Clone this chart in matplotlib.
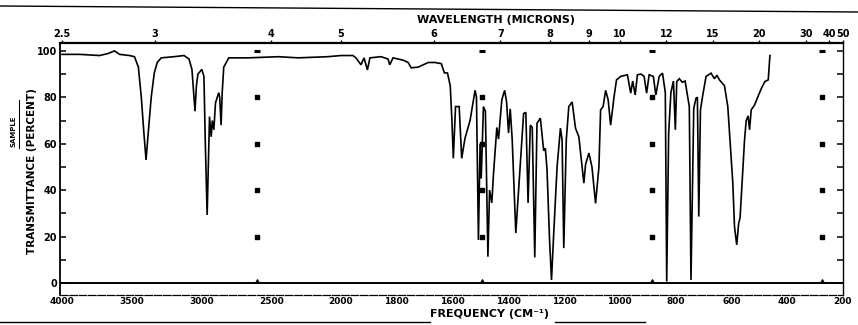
import numpy as np
import matplotlib
matplotlib.use('Agg')
import matplotlib.pyplot as plt
from matplotlib.lines import Line2D

# ---- data ----
freq = [4000, 3872, 3730, 3673, 3623, 3587, 3516, 3480, 3452, 3431, 3413, 3397,
        3381, 3360, 3338, 3317, 3288, 3196, 3125, 3089, 3068, 3053, 3046, 3036,
        3025, 2997, 2982, 2972, 2959, 2947, 2942, 2930, 2922, 2911, 2899, 2876,
        2869, 2859, 2851, 2840, 2804, 2662, 2449, 2306, 2093, 2000,
        1975, 1957, 1946, 1928, 1917, 1905, 1896, 1856, 1831, 1825, 1813, 1777,
        1759, 1748, 1723, 1705, 1687, 1662, 1640, 1629, 1618, 1608, 1602, 1597,
        1589, 1576, 1567, 1555, 1537, 1519, 1514, 1507, 1501, 1497, 1489, 1482,
        1473, 1467, 1459, 1453, 1441, 1435, 1423, 1413, 1406, 1399, 1393, 1386,
        1373, 1363, 1345, 1337, 1329, 1321, 1314, 1305, 1297, 1285, 1273, 1267,
        1261, 1252, 1245, 1237, 1225, 1213, 1207, 1201, 1192, 1183, 1171, 1159,
        1147, 1129, 1123, 1111, 1100, 1087, 1075, 1069, 1060, 1051, 1042, 1033,
        1021, 1012, 997, 973, 961, 954, 945, 937, 924, 913, 904, 895, 880, 871,
        859, 847, 837, 832, 825, 817, 808, 801, 796, 787, 776, 766, 751, 745,
        735, 727, 722, 717, 711, 704, 691, 673, 661, 652, 643, 625, 613, 601,
        595, 589, 581, 574, 569, 561, 553, 547, 540, 535, 529, 517, 505, 492,
        480, 468, 465, 462]
trans = [98.5, 98.5, 98, 98.8, 100, 98.5, 98, 97.5, 93, 80, 65, 53,
         65, 80, 90.5, 95, 97, 97.5, 98, 96.5, 92, 80, 74, 85,
         90, 92, 89, 60, 29.3, 60, 71.7, 63, 70, 66, 77.6, 82,
         80, 68, 82, 93, 97, 97, 97.5, 97, 97.5, 98,
         98, 98, 97, 94, 97, 91.8, 97, 97.5, 96.5, 94, 97, 96,
         95, 92.7, 93, 94, 95, 95, 94.5, 90.5, 90.5, 85, 70, 53.7,
         76, 76, 53.7, 62.4, 70, 83, 80, 18.5, 60, 45, 76, 74,
         11.3, 40, 34.5, 47, 67, 62, 79, 83, 78, 64.6, 75, 62,
         21.5, 40, 73, 73.5, 34.5, 68, 67, 11, 68.8, 71, 57, 58,
         48.7, 18.5, 1.3, 21.5, 50, 66.7, 61.6, 15, 61.6, 76, 78, 66.7,
         63, 43, 51, 56, 50, 34.3, 50, 74.6, 76, 83, 79, 68,
         80, 87.5, 89, 89.7, 81.8, 87, 81, 89.7, 90, 89, 81.8, 89.7, 89, 81,
         89, 90.4, 82, 0.6, 64.5, 82, 87, 66, 86.8, 88, 86.5, 87, 76, 1.3,
         75.3, 79.6, 80, 28.6, 74.6, 80, 89, 90.4, 88, 89.5, 87.5, 85, 76, 54.4,
         43, 24.3, 16.4, 25.7, 28, 44.4, 61.6, 70, 72, 66, 74.6, 76.7, 80.3, 84,
         86.8, 87.5, 93, 98]

freq_ticks = [4000, 3500, 3000, 2500, 2000, 1800, 1600, 1400, 1200, 1000,
              800, 600, 400, 200]
wavelength_ticks = [2.5, 3, 4, 5, 6, 7, 8, 9, 10, 12, 15, 20, 30, 40, 50]
wavelength_labels = ['2.5', '3', '4', '5', '6', '7', '8', '9', '10', '12',
                     '15', '20', '30', '40', '50']
percent_ticks = [0, 20, 40, 60, 80, 100]
guide_freqs = [2600, 1495, 885, 275]
guide_levels = [20, 40, 60, 80]


# chart paper: scale is compressed 2x above 2000 cm-1 (monotonic increasing)
def fwd(f):
    f = np.asarray(f, dtype=float)
    return np.where(f >= 2000, 2000 + (f - 2000) / 2.0, f)


def inv(u):
    u = np.asarray(u, dtype=float)
    return np.where(u >= 2000, 2000 + 2 * (u - 2000), u)


W, H = 858, 325
fig = plt.figure(figsize=(W / 100, H / 100), dpi=100)
fig.patch.set_facecolor('white')
ax = fig.add_axes([60 / W, 1 - 295 / H, (843 - 60) / W, (295 - 43) / H])
ax.set_xscale('function', functions=(fwd, inv))
ax.set_xlim(4014, 200)
ax.set_ylim(-5.2, 103.4)

ax.plot(freq, trans, color='black', lw=1.2, solid_joinstyle='miter')
ax.axhline(0, color='black', lw=1.4)

# chart-paper guide marks
for gf in guide_freqs:
    ax.scatter([gf] * len(guide_levels), guide_levels, marker='s', s=7,
               color='black', zorder=3)
    ax.scatter([gf], [100], marker='_', s=22, linewidths=2.2, color='black',
               zorder=3)
    ax.scatter([gf], [0.8], marker='^', s=6, color='black', zorder=3)

# y axis
ax.set_yticks(list(range(0, 101, 10)))
ax.set_yticklabels([str(v) if v in percent_ticks else '' for v in range(0, 101, 10)])
ax.tick_params(axis='y', direction='in', length=4, width=1.1, labelsize=7,
               pad=2, right=True)
for lab in ax.get_yticklabels():
    lab.set_fontweight('bold')

# bottom axis
ax.set_xticks(freq_ticks)
ax.set_xticklabels([str(v) for v in freq_ticks])
ax.tick_params(axis='x', length=0, pad=1.5, labelsize=6.5)
for lab in ax.get_xticklabels():
    lab.set_fontweight('bold')
ax.xaxis.set_minor_locator(matplotlib.ticker.NullLocator())
ax.yaxis.set_minor_locator(matplotlib.ticker.NullLocator())

ax.spines['left'].set_linewidth(1.3)
ax.spines['right'].set_linewidth(1.0)
ax.spines['top'].set_linewidth(1.6)
ax.spines['bottom'].set_linewidth(0.9)
ax.spines['bottom'].set_linestyle((0, (6, 1.5)))

# top wavelength axis
ax2 = ax.twiny()
ax2.set_xscale('function', functions=(fwd, inv))
ax2.set_xlim(ax.get_xlim())
ax2.set_xticks([1e4 / w for w in wavelength_ticks])
ax2.set_xticklabels(wavelength_labels)
ax2.xaxis.set_minor_locator(matplotlib.ticker.NullLocator())
ax2.tick_params(axis='x', direction='out', length=2, width=1, pad=1, labelsize=7)
for lab in ax2.get_xticklabels():
    lab.set_fontweight('bold')
for s in ax2.spines.values():
    s.set_visible(False)

# titles
fig.text(496 / W, 1 - 20 / H, 'WAVELENGTH (MICRONS)', ha='center', va='center',
         fontsize=8, fontweight='bold')
fig.text(490 / W, 1 - 314 / H, 'FREQUENCY (CM⁻¹)', ha='center', va='center',
         fontsize=8, fontweight='bold')
fig.text(32 / W, 1 - 171 / H, 'TRANSMITTANCE (PERCENT)', ha='center',
         va='center', rotation=90, fontsize=7.5, fontweight='bold')
fig.text(14 / W, 1 - 131 / H, 'SAMPLE', ha='center', va='center', rotation=90,
         fontsize=5, fontweight='bold')
fig.add_artist(Line2D([19 / W, 19 / W], [1 - 100 / H, 1 - 148 / H],
                      transform=fig.transFigure, color='black', lw=0.8))

# scan page borders
fig.add_artist(Line2D([0, 1], [1 - 6 / H, 1 - 12 / H], transform=fig.transFigure,
                      color='black', lw=1.0))
fig.add_artist(Line2D([0, 430 / W], [1 - 322 / H, 1 - 322 / H],
                      transform=fig.transFigure, color='black', lw=1.0))
fig.add_artist(Line2D([555 / W, 645 / W], [1 - 322 / H, 1 - 322 / H],
                      transform=fig.transFigure, color='black', lw=1.0))

fig.savefig('out.png', dpi=100, facecolor='white')
